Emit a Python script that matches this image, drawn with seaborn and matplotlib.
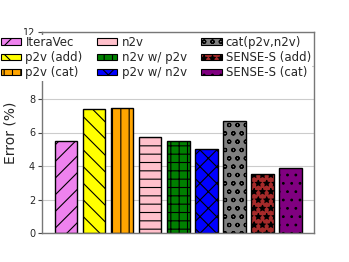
import matplotlib
matplotlib.use("Agg")
import matplotlib.pyplot as plt
import seaborn as sns
import pandas as pd
from matplotlib.patches import Patch

methods = ["IteraVec", "p2v (add)", "p2v (cat)", "n2v", "n2v w/ p2v",
           "p2v w/ n2v", "cat(p2v,n2v)", "SENSE-S (add)", "SENSE-S (cat)"]
errors = [5.51, 7.43, 7.45, 5.71, 5.47, 5.03, 6.67, 3.50, 3.86]
colors = ["violet", "yellow", "orange", "pink", "green", "blue", "gray", "brown", "purple"]
hatches = ["//", "\\\\", "||", "--", "++", "xx", "oo", "**", ".."]
yticks = [0, 2, 4, 6, 8, 10, 12]

df = pd.DataFrame({"method": methods, "error": errors})

sns.set_theme(style="whitegrid")
plt.rcParams["font.family"] = ["DejaVu Sans"]
plt.rcParams["hatch.linewidth"] = 0.8

fig = plt.figure(figsize=(3.49, 2.62), dpi=100)
ax = fig.add_axes([42/349, 1-233/262, (314-42)/349, (233-32)/262])

sns.barplot(data=df, x="method", y="error", hue="method", palette=colors,
            saturation=1, dodge=False, legend=False, width=0.8, ax=ax,
            edgecolor="black", linewidth=1)

for p, h in zip(ax.patches, hatches):
    p.set_hatch(h)
    p.set_edgecolor("black")

ax.set_xlim(-0.85, 8.83)
ax.set_ylim(0, 12)
ax.set_yticks(yticks)
ax.set_xticks([])
ax.set_xlabel("")
ax.set_ylabel("Error (%)", fontsize=10, labelpad=4)
ax.tick_params(axis="y", labelsize=7, length=3, width=0.8, color="#444444", left=True, pad=2)
ax.grid(axis="y", color="#cccccc", linewidth=0.8)
ax.grid(axis="x", visible=False)
for s in ax.spines.values():
    s.set_color("#777777")
    s.set_linewidth(1)

handles = [Patch(facecolor=c, edgecolor="black", hatch=h, linewidth=0.8)
           for c, h in zip(colors, hatches)]
leg = fig.legend(handles, methods, ncol=3, loc="upper left",
                 bbox_to_anchor=(0.0, 1 - 34.5/262), fontsize=8.5,
                 handlelength=1.7, handleheight=0.42, handletextpad=0.35,
                 columnspacing=1.25, labelspacing=0.2, borderpad=0.1,
                 borderaxespad=0, frameon=True, fancybox=False)
leg.get_frame().set_facecolor("white")
leg.get_frame().set_edgecolor("none")
leg.get_frame().set_alpha(1)

fig.savefig("out.png", dpi=100)
